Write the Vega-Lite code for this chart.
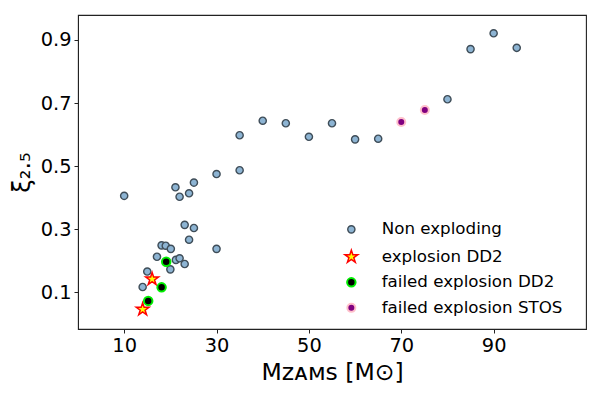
{
  "$schema": "https://vega.github.io/schema/vega-lite/v6.json",
  "width": 508,
  "height": 314,
  "autosize": {"type": "none"},
  "padding": {"left": 78, "top": 15, "right": 12, "bottom": 64},
  "background": "white",
  "config": {
    "view": {"stroke": "#222222", "strokeWidth": 1.1},
    "font": "DejaVu Sans",
    "axis": {
      "grid": false,
      "domainColor": "#222222",
      "tickColor": "#222222",
      "tickSize": 4,
      "labelFont": "DejaVu Sans",
      "labelFontSize": 19.4,
      "labelColor": "black",
      "titleFont": "DejaVu Sans",
      "titleColor": "black",
      "titleFontWeight": "normal"
    }
  },
  "data": {
    "values": [
      {"m": 10, "xi": 0.406, "type": "Non exploding"},
      {"m": 14, "xi": 0.117, "type": "Non exploding"},
      {"m": 15, "xi": 0.166, "type": "Non exploding"},
      {"m": 17.1, "xi": 0.213, "type": "Non exploding"},
      {"m": 18.1, "xi": 0.249, "type": "Non exploding"},
      {"m": 19, "xi": 0.248, "type": "Non exploding"},
      {"m": 20.1, "xi": 0.238, "type": "Non exploding"},
      {"m": 20, "xi": 0.173, "type": "Non exploding"},
      {"m": 21.2, "xi": 0.203, "type": "Non exploding"},
      {"m": 22, "xi": 0.208, "type": "Non exploding"},
      {"m": 23.1, "xi": 0.19, "type": "Non exploding"},
      {"m": 21.1, "xi": 0.433, "type": "Non exploding"},
      {"m": 22, "xi": 0.403, "type": "Non exploding"},
      {"m": 24.05, "xi": 0.414, "type": "Non exploding"},
      {"m": 25.1, "xi": 0.448, "type": "Non exploding"},
      {"m": 23.1, "xi": 0.314, "type": "Non exploding"},
      {"m": 25.1, "xi": 0.304, "type": "Non exploding"},
      {"m": 24.05, "xi": 0.267, "type": "Non exploding"},
      {"m": 30, "xi": 0.238, "type": "Non exploding"},
      {"m": 30, "xi": 0.475, "type": "Non exploding"},
      {"m": 35, "xi": 0.487, "type": "Non exploding"},
      {"m": 35, "xi": 0.598, "type": "Non exploding"},
      {"m": 40, "xi": 0.644, "type": "Non exploding"},
      {"m": 45, "xi": 0.636, "type": "Non exploding"},
      {"m": 50, "xi": 0.593, "type": "Non exploding"},
      {"m": 55, "xi": 0.636, "type": "Non exploding"},
      {"m": 60, "xi": 0.585, "type": "Non exploding"},
      {"m": 65, "xi": 0.587, "type": "Non exploding"},
      {"m": 80, "xi": 0.712, "type": "Non exploding"},
      {"m": 85, "xi": 0.871, "type": "Non exploding"},
      {"m": 90, "xi": 0.921, "type": "Non exploding"},
      {"m": 95, "xi": 0.875, "type": "Non exploding"},
      {"m": 16.05, "xi": 0.142, "type": "explosion DD2"},
      {"m": 14, "xi": 0.046, "type": "explosion DD2"},
      {"m": 19.1, "xi": 0.197, "type": "failed explosion DD2"},
      {"m": 18.1, "xi": 0.116, "type": "failed explosion DD2"},
      {"m": 15.2, "xi": 0.073, "type": "failed explosion DD2"},
      {"m": 70, "xi": 0.64, "type": "failed explosion STOS"},
      {"m": 75.1, "xi": 0.678, "type": "failed explosion STOS"}
    ]
  },
  "mark": {"type": "point", "filled": true, "opacity": 1},
  "encoding": {
    "x": {
      "field": "m",
      "type": "quantitative",
      "scale": {"domain": [0, 110], "nice": false, "zero": false},
      "axis": {
        "values": [10, 30, 50, 70, 90],
        "title": "Mᴢᴀᴍꜱ [M⊙]",
        "titleFontSize": 23.5,
        "titlePadding": 6,
        "labelPadding": 3
      }
    },
    "y": {
      "field": "xi",
      "type": "quantitative",
      "scale": {"domain": [-0.016, 0.979], "nice": false, "zero": false},
      "axis": {
        "values": [0.1, 0.3, 0.5, 0.7, 0.9],
        "format": ".1f",
        "title": "ξ₂.₅",
        "titleFontSize": 24,
        "titlePadding": 6,
        "labelPadding": 3
      }
    },
    "shape": {
      "field": "type",
      "type": "nominal",
      "scale": {
        "domain": ["Non exploding", "explosion DD2", "failed explosion DD2", "failed explosion STOS"],
        "range": ["circle", "M0,-1L0.2245,-0.309L0.951,-0.309L0.3633,0.118L0.5878,0.809L0,0.382L-0.5878,0.809L-0.3633,0.118L-0.951,-0.309L-0.2245,-0.309Z", "circle", "circle"]
      },
      "legend": {
        "title": null,
        "orient": "none",
        "legendX": 265,
        "legendY": 206,
        "padding": 0,
        "labelFontSize": 16.7,
        "labelFont": "DejaVu Sans",
        "labelColor": "black",
        "labelOffset": 22,
        "labelLimit": 400,
        "rowPadding": 7.5
      }
    },
    "fill": {
      "field": "type",
      "type": "nominal",
      "scale": {
        "domain": ["Non exploding", "explosion DD2", "failed explosion DD2", "failed explosion STOS"],
        "range": ["#8db4d3", "#ffff00", "#000000", "#800080"]
      }
    },
    "stroke": {
      "field": "type",
      "type": "nominal",
      "scale": {
        "domain": ["Non exploding", "explosion DD2", "failed explosion DD2", "failed explosion STOS"],
        "range": ["#3f4d58", "#ff0000", "#00ee00", "#ffc0cb"]
      }
    },
    "strokeWidth": {
      "field": "type",
      "type": "nominal",
      "scale": {
        "type": "ordinal",
        "domain": ["Non exploding", "explosion DD2", "failed explosion DD2", "failed explosion STOS"],
        "range": [1.4, 1.5, 2, 2]
      }
    },
    "size": {
      "field": "type",
      "type": "nominal",
      "scale": {
        "type": "ordinal",
        "domain": ["Non exploding", "explosion DD2", "failed explosion DD2", "failed explosion STOS"],
        "range": [52, 180, 72, 64]
      }
    }
  }
}
